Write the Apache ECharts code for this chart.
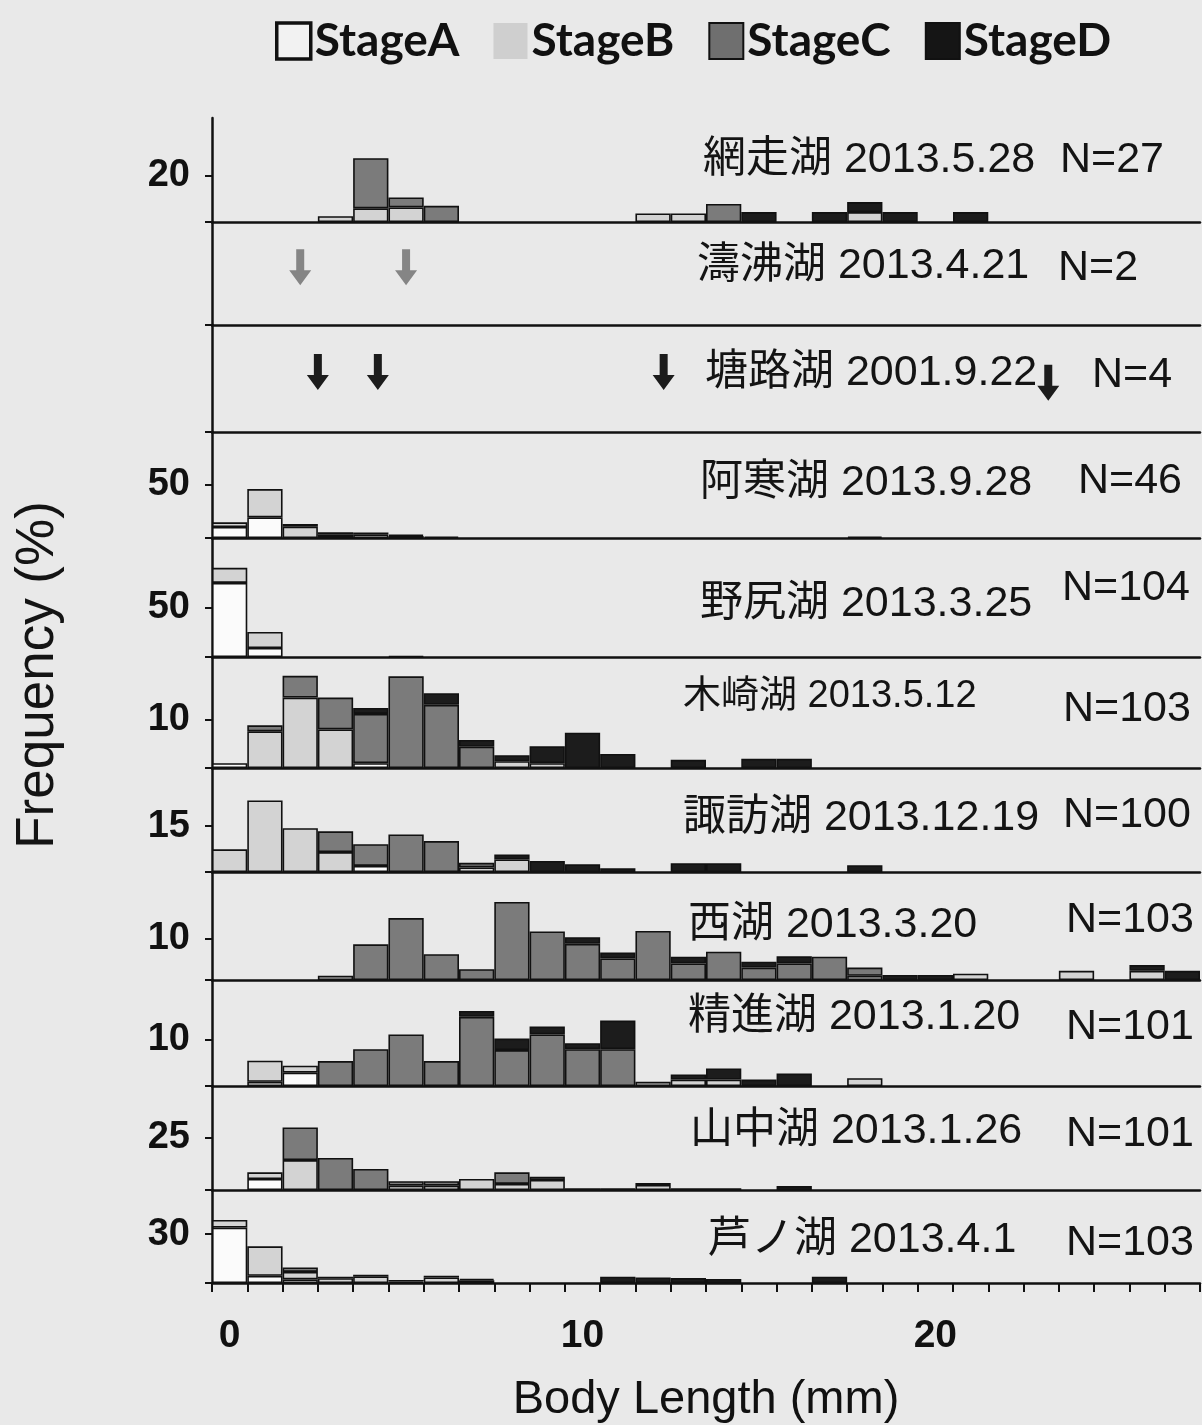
<!DOCTYPE html>
<html><head><meta charset="utf-8">
<script src="https://cdn.jsdelivr.net/npm/echarts@6/dist/echarts.min.js"></script>
<style>html,body{margin:0;padding:0;background:#e9e9e9;}#c{width:1202px;height:1425px;}</style>
</head><body><div id="c"></div>
<script>
// ---------- data ----------
const bins = ['0','1','2','3','4','5','6','7','8','9','10','11','12','13','14','15','16','17','18','19','20','21','22','23','24','25','26','27'];
const stages = ['StageA','StageB','StageC','StageD'];
const lakeLabels = ['網走湖 2013.5.28','濤沸湖 2013.4.21','塘路湖 2001.9.22','阿寒湖 2013.9.28','野尻湖 2013.3.25','木崎湖 2013.5.12','諏訪湖 2013.12.19','西湖 2013.3.20','精進湖 2013.1.20','山中湖 2013.1.26','芦ノ湖 2013.4.1'];
const sampleSizes = ['N=27','N=2','N=4','N=46','N=104','N=103','N=100','N=103','N=101','N=101','N=103'];
const yTickValues = [20, null, null, 50, 50, 10, 15, 10, 10, 25, 30];

//                 0    1    2    3    4    5    6    7    8    9   10   11   12   13   14   15   16   17   18   19   20   21   22   23   24   25   26   27
const abashiriA = [0,   0,   0,   0,   0,   0,   0,   0,   0,   0,   0,   0,   0,   0,   0,   0,   0,   0,   0,   0,   0,   0,   0,   0,   0,   0,   0,   0];
const abashiriB = [0,   0,   0,   2.5, 5.9, 6.3, 0,   0,   0,   0,   0,   0,   3.7, 3.7, 0,   0,   0,   0,   4.3, 0,   0,   0,   0,   0,   0,   0,   0,   0];
const abashiriC = [0,   0,   0,   0,   21.7,4.3, 7.0, 0,   0,   0,   0,   0,   0,   0,   7.8, 0,   0,   0,   0,   0,   0,   0,   0,   0,   0,   0,   0,   0];
const abashiriD = [0,   0,   0,   0,   0,   0,   0,   0,   0,   0,   0,   0,   0,   0,   0,   4.3, 0,   4.3, 4.3, 4.3, 0,   4.3, 0,   0,   0,   0,   0,   0];

const tofutsuArrows = [2.0, 5.0];
const torokoArrows = [2.5, 4.2, 12.3, 23.2];

const akanA = [10.4,19.5,0,   0,   0,   0,   0,   0,   0,   0,   0,   0,   0,   0,   0,   0,   0,   0,   0,   0,   0,   0,   0,   0,   0,   0,   0,   0];
const akanB = [4.4, 26.7,10.7,3.0, 3.5, 2.0, 0,   0,   0,   0,   0,   0,   0,   0,   0,   0,   0,   0,   0,   0,   0,   0,   0,   0,   0,   0,   0,   0];
const akanC = [0,   0,   2.5, 2.4, 1.8, 1.1, 1.5, 0,   0,   0,   0,   0,   0,   0,   0,   0,   0,   0,   0,   0,   0,   0,   0,   0,   0,   0,   0,   0];
const akanD = [0,   0,   0,   0,   0,   0,   0,   0,   0,   0,   0,   0,   0,   0,   0,   0,   0,   0,   1.5, 0,   0,   0,   0,   0,   0,   0,   0,   0];

const nojiriA = [74.7,9.1, 0,   0,   0,   0,   0,   0,   0,   0,   0,   0,   0,   0,   0,   0,   0,   0,   0,   0,   0,   0,   0,   0,   0,   0,   0,   0];
const nojiriB = [15.2,16.2,0,   0,   0,   0,   0,   0,   0,   0,   0,   0,   0,   0,   0,   0,   0,   0,   0,   0,   0,   0,   0,   0,   0,   0,   0,   0];
const nojiriC = [0,   0,   0,   0,   0,   0.8, 0,   0,   0,   0,   0,   0,   0,   0,   0,   0,   0,   0,   0,   0,   0,   0,   0,   0,   0,   0,   0,   0];
const nojiriD = [0,   0,   0,   0,   0,   0,   0,   0,   0,   0,   0,   0,   0,   0,   0,   0,   0,   0,   0,   0,   0,   0,   0,   0,   0,   0,   0,   0];

const kizakiA = [1.0, 0,   0,   0,   1.0, 0,   0,   0,   0,   0,   0,   0,   0,   0,   0,   0,   0,   0,   0,   0,   0,   0,   0,   0,   0,   0,   0,   0];
const kizakiB = [0,   7.6, 14.6,8.0, 0,   0,   0,   0,   1.4, 1.0, 0,   0,   0,   0,   0,   0,   0,   0,   0,   0,   0,   0,   0,   0,   0,   0,   0,   0];
const kizakiC = [0,   1.25,4.5, 6.6, 10.2,19.0,13.1,4.4, 0,   0,   0,   0,   0,   0,   0,   0,   0,   0,   0,   0,   0,   0,   0,   0,   0,   0,   0,   0];
const kizakiD = [0,   0,   0,   0,   1.25,0,   2.4, 1.4, 1.25,3.5, 7.3, 2.9, 0,   1.7, 0,   1.9, 1.9, 0,   0,   0,   0,   0,   0,   0,   0,   0,   0,   0];

const suwaA = [0,   0,   0,   0,   2.0, 0,   0,   0,   0,   0,   0,   0,   0,   0,   0,   0,   0,   0,   0,   0,   0,   0,   0,   0,   0,   0,   0,   0];
const suwaB = [7.4, 23.4,14.3,6.5, 0,   0,   0,   1.5, 4.1, 0,   0,   0,   0,   0,   0,   0,   0,   0,   0,   0,   0,   0,   0,   0,   0,   0,   0,   0];
const suwaC = [0,   0,   0,   6.8, 7.1, 12.3,10.1,1.5, 0,   0,   0,   0,   0,   0,   0,   0,   0,   0,   0,   0,   0,   0,   0,   0,   0,   0,   0,   0];
const suwaD = [0,   0,   0,   0,   0,   0,   0,   0,   1.6, 3.6, 2.5, 1.2, 0,   2.9, 2.9, 0,   0,   0,   2.2, 0,   0,   0,   0,   0,   0,   0,   0,   0];

const saikoA = [0,   0,   0,   0,   0,   0,   0,   0,   0,   0,   0,   0,   0,   0,   0,   0,   0,   0,   0,   0,   0,   0,   0,   0,   0,   0,   0,   0];
const saikoB = [0,   0,   0,   1.0, 0,   0,   0,   0,   0,   0,   0,   0,   0,   0,   0,   0,   0,   0,   1.0, 0,   0,   1.5, 0,   0,   2.2, 0,   2.2, 0];
const saikoC = [0,   0,   0,   0,   8.6, 14.9,6.2, 2.6, 18.8,11.7,8.7, 5.2, 11.8,4.0, 6.8, 3.0, 4.0, 5.6, 2.0, 0,   0,   0,   0,   0,   0,   0,   0,   0];
const saikoD = [0,   0,   0,   0,   0,   0,   0,   0,   0,   0,   1.6, 1.4, 0,   1.6, 0,   1.4, 1.7, 0,   0,   1.2, 1.2, 0,   0,   0,   0,   0,   1.4, 2.2];

const shojiA = [0,   0.9, 2.9, 0,   0,   0,   0,   0,   0,   0,   0,   0,   0,   0,   0,   0,   0,   0,   0,   0,   0,   0,   0,   0,   0,   0,   0,   0];
const shojiB = [0,   4.6, 1.5, 0,   0,   0,   0,   0,   0,   0,   0,   0,   0.9, 1.4, 1.4, 0,   0,   0,   1.7, 0,   0,   0,   0,   0,   0,   0,   0,   0];
const shojiC = [0,   0,   0,   5.4, 8.0, 11.2,5.4, 15.0,7.8, 11.2,8.0, 8.0, 0,   0,   0,   0,   0,   0,   0,   0,   0,   0,   0,   0,   0,   0,   0,   0];
const shojiD = [0,   0,   0,   0,   0,   0,   0,   1.3, 2.5, 1.7, 1.3, 6.2, 0,   1.1, 2.4, 1.4, 2.7, 0,   0,   0,   0,   0,   0,   0,   0,   0,   0,   0];

const yamanakaA = [0,   5.3, 0,   0,   0,   0,   0,   0,   0,   0,   0,   0,   0,   0,   0,   0,   0,   0,   0,   0,   0,   0,   0,   0,   0,   0,   0,   0];
const yamanakaB = [0,   3.2, 14.4,0,   0,   2.1, 2.1, 5.3, 2.9, 4.8, 0,   0,   2.4, 0,   0,   0,   0,   0,   0,   0,   0,   0,   0,   0,   0,   0,   0,   0];
const yamanakaC = [0,   0,   15.7,15.4,10.1,2.1, 2.1, 0,   5.6, 1.6, 0,   0,   0,   0,   0,   0,   0,   0,   0,   0,   0,   0,   0,   0,   0,   0,   0,   0];
const yamanakaD = [0,   0,   0,   0,   0,   0,   0,   0,   0,   0,   0.8, 0.8, 1.0, 0.8, 0.8, 0,   1.9, 0,   0,   0,   0,   0,   0,   0,   0,   0,   0,   0];

const ashinokoA = [34.0,4.4, 2.2, 0,   0,   0,   0,   0,   0,   0,   0,   0,   0,   0,   0,   0,   0,   0,   0,   0,   0,   0,   0,   0,   0,   0,   0,   0];
const ashinokoB = [4.6, 18.1,4.6, 2.9, 4.1, 0.9, 3.4, 1.7, 0,   0,   0,   0,   0,   0,   0,   0,   0,   0,   0,   0,   0,   0,   0,   0,   0,   0,   0,   0];
const ashinokoC = [0,   0,   2.7, 1.0, 1.0, 1.0, 1.0, 0.8, 0,   0,   0,   0,   0,   0,   0,   0,   0,   0,   0,   0,   0,   0,   0,   0,   0,   0,   0,   0];
const ashinokoD = [0,   0,   0,   0,   0,   0,   0,   0,   0,   0,   0,   3.9, 3.4, 3.0, 2.5, 0,   0,   3.9, 0,   0,   0,   0,   0,   0,   0,   0,   0,   0];

// ---------- layout / style ----------
const panelEdges = [118,222,325,432,538,657,768,872,980,1086,1190,1303];
const yMaxes = [45, 1, 1, 100, 120, 23, 34, 26, 23, 50, 57];
const panelStacks = [
  [abashiriA, abashiriB, abashiriC, abashiriD], null, null,
  [akanA, akanB, akanC, akanD],
  [nojiriA, nojiriB, nojiriC, nojiriD],
  [kizakiA, kizakiB, kizakiC, kizakiD],
  [suwaA, suwaB, suwaC, suwaD],
  [saikoA, saikoB, saikoC, saikoD],
  [shojiA, shojiB, shojiC, shojiD],
  [yamanakaA, yamanakaB, yamanakaC, yamanakaD],
  [ashinokoA, ashinokoB, ashinokoC, ashinokoD]
];
const stageColors = ['#fbfbfb', '#d3d3d3', '#7b7b7b', '#1c1c1c'];
const lakePos = [[703,160,43],[697,266,43],[705,373,43],[700,483,43],[700,604,43],[683,697,38],[683,818,43],[688,925,43],[688,1017,43],[690,1131,43],[708,1240,43]];
const nPos = [[1060,160],[1058,268],[1092,375],[1078,481],[1062,588],[1063,709],[1063,815],[1066,920],[1066,1027],[1066,1134],[1066,1243]];

const GL = 212, GW = 988;
const grids = [], xAxes = [], yAxes = [], series = [];
const last = panelEdges.length - 2;
const latin = "'Liberation Sans', Arial, 'Noto Sans CJK JP', sans-serif";

for (let i = 0; i <= last; i++) {
  const top = panelEdges[i], h = panelEdges[i+1] - panelEdges[i];
  grids.push({left: GL, width: GW, top: top, height: h, containLabel: false});
  const isLast = i === last;
  const xi = xAxes.length;
  xAxes.push({
    type: 'category', gridIndex: i, data: bins, boundaryGap: true,
    axisLine: {show: true, onZero: false, lineStyle: {color: '#111', width: 2.5}},
    axisTick: {show: isLast, interval: 0, length: 9, lineStyle: {color: '#111', width: 2}},
    axisLabel: {show: isLast, interval: 9, margin: 34, fontSize: 39, fontWeight: 'bold', fontFamily: latin, color: '#111'},
    name: isLast ? 'Body Length (mm)' : '', nameLocation: 'middle', nameGap: 94,
    nameTextStyle: {fontSize: 47, fontFamily: latin, color: '#111'},
    splitLine: {show: false}
  });
  const tick = yTickValues[i];
  yAxes.push({
    type: 'value', gridIndex: i, min: 0, max: yMaxes[i], interval: tick || 1,
    axisLine: {show: true, onZero: false, lineStyle: {color: '#111', width: 2.5}},
    axisTick: {show: true, length: 7, lineStyle: {color: '#111', width: 2},
      customValues: tick ? [0, tick] : [0]},
    axisLabel: {show: true, margin: 22, fontSize: 38, fontWeight: 'bold', fontFamily: latin, color: '#111',
      formatter: v => (tick && v === tick) ? String(v) : ''},
    splitLine: {show: false}
  });
  const stack = panelStacks[i];
  if (stack) {
    stack.forEach((arr, s) => {
      series.push({
        type: 'bar', name: stages[s], xAxisIndex: xi, yAxisIndex: i, stack: 'p' + i,
        barCategoryGap: '0%', silent: true,
        data: arr.map(v => v > 0 ? v : '-'),
        itemStyle: {color: stageColors[s], borderColor: '#111', borderWidth: 1.6}
      });
    });
  } else {
    const vi = xAxes.length;
    xAxes.push({type: 'value', gridIndex: i, min: -0.5, max: 27.5, show: false});
    const arrows = i === 1 ? tofutsuArrows : torokoArrows;
    const color = i === 1 ? '#858585' : '#1c1c1c';
    series.push({
      type: 'scatter', xAxisIndex: vi, yAxisIndex: i, silent: true,
      symbol: 'path://M7,0 L15,0 L15,21 L22,21 L11,36 L0,21 L7,21 Z',
      symbolSize: [22, 36],
      itemStyle: {color: color, opacity: 1},
      data: arrows.map(x => ({value: [x, (i === 2 && x > 20) ? 0.46 : 0.56]}))
    });
  }
}

const graphics = [];
lakeLabels.forEach((t, i) => {
  graphics.push({type: 'text', x: lakePos[i][0], y: lakePos[i][1], silent: true,
    style: {text: t, font: lakePos[i][2] + "px 'Liberation Sans', Arial, 'Noto Sans CJK JP'", fill: '#141414', verticalAlign: 'middle'}});
  graphics.push({type: 'text', x: nPos[i][0], y: nPos[i][1], silent: true,
    style: {text: sampleSizes[i], font: "43px 'Liberation Sans', Arial", fill: '#141414', verticalAlign: 'middle'}});
});
graphics.push({type: 'text', x: 38, y: 675, rotation: Math.PI / 2, silent: true,
  style: {text: 'Frequency (%)', font: "53px 'Liberation Sans', Arial", fill: '#141414', align: 'center', verticalAlign: 'middle'}});

const chart = echarts.init(document.getElementById('c'), null, {renderer: 'canvas'});
chart.setOption({
  backgroundColor: '#e9e9e9',
  animation: false,
  legend: {
    data: [
      {name: 'StageA', itemStyle: {borderWidth: 3.5, borderColor: '#111', color: '#f2f2f2'}},
      {name: 'StageB', itemStyle: {borderWidth: 0, color: '#cfcfcf'}},
      {name: 'StageC', itemStyle: {borderWidth: 2, borderColor: '#111', color: '#6f6f6f'}},
      {name: 'StageD', itemStyle: {borderWidth: 2, borderColor: '#111', color: '#151515'}}
    ],
    left: 270, top: 13, itemWidth: 34, itemHeight: 36, itemGap: 34,
    icon: 'rect', selectedMode: false,
    textStyle: {fontFamily: 'Lato, sans-serif', fontWeight: 'bold', fontSize: 46, color: '#111', padding: [0, 0, 0, -1]}
  },
  grid: grids, xAxis: xAxes, yAxis: yAxes, series: series, graphic: graphics
});
</script></body></html>
